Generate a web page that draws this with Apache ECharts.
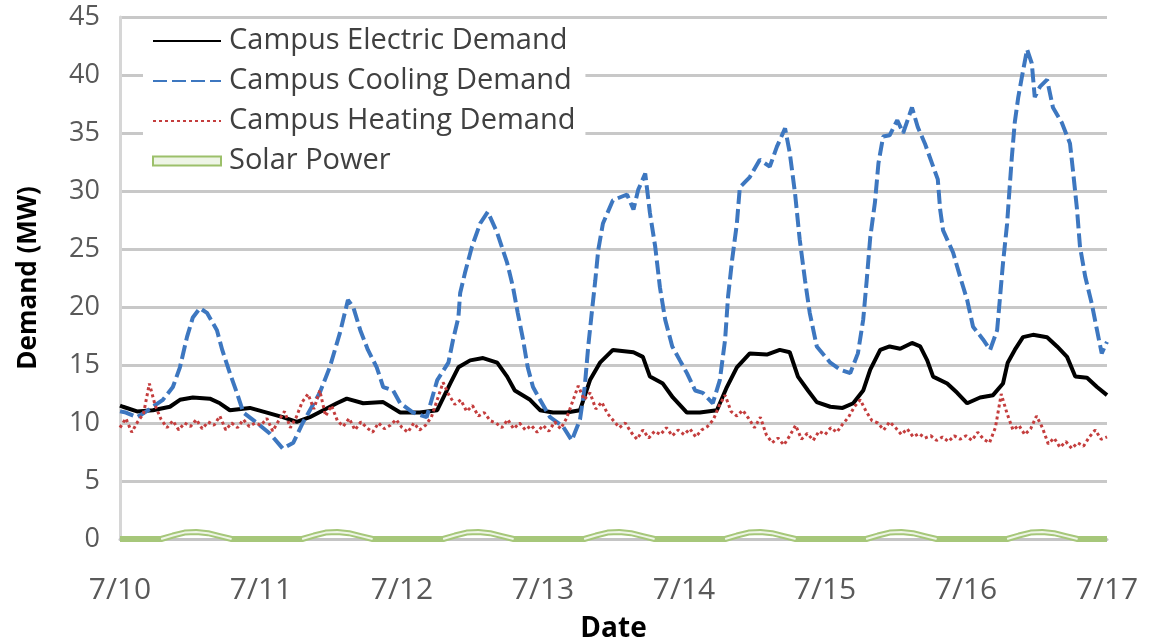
<!DOCTYPE html>
<html><head><meta charset="utf-8">
<script src="https://cdn.jsdelivr.net/npm/echarts@6/dist/echarts.min.js"></script>
<style>html,body{margin:0;padding:0;background:#fff}#c{width:1160px;height:640px}</style>
</head><body><div id="c"></div>
<script>
const tickLabels = ['7/10','7/11','7/12','7/13','7/14','7/15','7/16','7/17'];
const seriesNames = ['Campus Electric Demand','Campus Cooling Demand','Campus Heating Demand','Solar Power'];

const electricHours = [0,0.5,2.9,5.6,8.5,10.2,12.4,15.3,17,18.7,22.1,25,27.7,30.1,32.3,34.6,36.9,38.6,41.4,44.8,47.7,51,54,56.2,57.6,59.6,61.8,64.2,65.9,67.2,69.8,71.5,73.7,76,78.3,80,81.7,83.9,87.4,89,90.2,92.4,94.1,96.5,98.7,101.6,103.3,105,107.2,110.1,112.3,114,115.4,117.1,118.6,120.9,123,124.8,126.5,127.7,129.4,131,132.8,134.8,136.2,137.4,138.4,140.8,142.5,144.2,146.4,148.6,150.3,151.1,152.3,153.7,155.4,157.8,159.5,161.2,162.6,164.6,166.3,168];
const electricValues = [11.5,11.4,11.0,11.1,11.4,12.0,12.2,12.1,11.7,11.1,11.3,10.9,10.5,10.1,10.5,11.1,11.7,12.1,11.7,11.8,10.9,10.9,11.1,13.4,14.8,15.4,15.6,15.2,14.0,12.8,12.0,11.1,10.9,10.9,11.1,13.7,15.2,16.3,16.1,15.7,14.0,13.4,12.2,10.9,10.9,11.1,13.1,14.8,16.0,15.9,16.3,16.1,14.0,12.8,11.8,11.4,11.3,11.7,12.8,14.6,16.3,16.6,16.4,16.9,16.6,15.4,14.0,13.4,12.6,11.7,12.2,12.4,13.4,15.2,16.3,17.4,17.6,17.4,16.6,15.7,14.0,13.9,13.1,12.4];

const coolingHours = [0,1,2.9,4.5,5.6,7.3,9,10.2,11.4,12.4,13.6,14.8,16.5,17.4,18.7,19.9,21,23.3,25.5,27.7,29.5,31.1,34,35.7,37.4,38.8,39.7,40.9,42.2,43.7,44.8,46.5,47.7,49.9,52.2,54,55.9,56.7,57.6,57.9,58.7,59.9,61.3,62.6,64.2,65.9,66.9,67.7,68.6,69.4,70.3,71.5,73.2,75.4,76.9,78.3,79.1,79.7,80.3,80.9,81.4,82.2,83.9,86.3,87.4,88.2,89.4,90.2,91.1,91.9,92.8,94,95.3,96.5,97.9,99.2,100.9,102.1,103,103.5,104.2,105,105.5,107.2,108.9,110.6,111.8,113.2,114,114.9,115.7,116.6,117.4,118.6,120.9,122.6,124.3,125.6,126.5,127.1,127.7,128.5,129.1,129.9,131,132.3,133.3,134.8,135.8,137,138.2,139.2,139.6,140.1,141.8,143,144.2,145.2,146.9,148.1,149.3,149.8,150.3,151,151.4,151.8,152.3,152.9,153.5,154.4,155.2,155.7,156.6,157.8,158.8,160.3,161.7,162.2,162.9,163.4,164.3,165.4,166.3,167.1,168];
const coolingValues = [11.0,10.9,10.5,11.0,11.4,12.0,13.1,14.8,17.4,19.1,19.9,19.5,18.0,16.3,14.3,12.6,10.9,10.0,9.1,7.8,8.3,10.0,12.6,14.8,17.7,20.6,20.0,18.0,16.3,14.8,13.1,12.8,11.7,10.9,10.5,13.7,15.2,17.2,19.1,21.2,22.9,25.2,27.2,28.2,26.4,23.8,21.7,19.5,17.2,14.8,13.1,12.0,10.5,9.7,8.5,10.3,13.1,16.6,19.5,22.3,24.9,27.2,29.2,29.7,28.4,30.1,31.5,28.1,25.2,21.7,18.9,16.6,15.4,14.3,12.8,12.6,11.7,13.7,17.2,20.9,24.1,27.2,30.3,31.2,32.7,32.1,33.8,35.4,33.3,29.8,25.8,22.3,19.5,16.6,15.2,14.6,14.3,16.0,18.9,22.3,26.0,29.0,32.4,34.7,34.8,36.1,35.0,37.2,35.5,34.1,32.4,31.0,28.4,26.6,24.7,22.6,20.6,18.3,17.2,16.3,18.0,20.9,23.8,27.2,30.1,32.9,35.9,38.1,39.8,42.2,41.0,38.1,39.0,39.6,37.2,35.9,34.1,31.8,28.4,25.2,22.6,20.3,18.0,16.0,17.0];

// one value per hour, 7/10 00:00 .. 7/17 00:00
const heatingValues = [
9.6,10.4,9.2,10.1,10.8,13.4,11.5,10.3,9.6,10.2,9.4,10.0,9.7,10.3,9.5,10.1,9.8,10.6,9.4,10.0,9.6,10.3,9.7,10.0,
9.8,10.4,9.3,10.2,11.0,9.6,10.5,11.8,12.5,11.2,12.8,10.6,11.5,10.2,9.7,10.4,9.4,10.1,9.6,9.2,10.0,9.5,9.8,10.3,
9.6,9.2,10.0,9.4,9.8,10.5,12.0,13.5,12.4,11.6,12.0,11.0,11.5,10.6,10.9,10.2,10.0,9.6,10.3,9.5,10.0,9.4,9.8,9.2,
9.8,9.3,10.1,9.5,10.4,11.8,13.2,12.0,12.6,11.2,11.8,10.8,10.2,9.6,10.0,9.2,8.6,9.4,8.7,9.3,9.0,9.6,8.9,9.4,
9.0,9.5,8.8,9.4,9.7,10.3,11.5,12.4,11.0,10.6,11.1,10.4,9.6,10.5,9.0,8.3,8.7,8.1,8.9,9.8,8.6,9.1,8.5,9.3,
9.0,9.6,9.2,9.9,10.5,11.4,12.0,11.0,10.2,10.0,9.4,10.1,9.6,9.0,9.5,8.8,9.1,8.7,8.9,8.5,8.8,8.4,8.9,8.6,
8.9,8.5,9.2,8.6,8.3,9.6,12.5,10.8,9.4,9.8,9.0,9.5,10.6,9.6,8.2,8.7,7.9,8.4,7.8,8.3,8.0,8.8,9.4,8.6,8.8];

const solarHours = [0,7,9,11,13,15,17,19,31,33,35,37,39,41,43,55,57,59,61,63,65,67,79,81,83,85,87,89,91,103,105,107,109,111,113,115,127,129,131,133,135,137,139,151,153,155,157,159,161,163,168];
const solarValues = [0,0,0.3,0.55,0.6,0.5,0.25,0,0,0.3,0.55,0.6,0.5,0.25,0,0,0.3,0.55,0.6,0.5,0.25,0,0,0.3,0.55,0.6,0.5,0.25,0,0,0.3,0.55,0.6,0.5,0.25,0,0,0.3,0.55,0.6,0.5,0.25,0,0,0.3,0.55,0.6,0.5,0.25,0,0];

const pairs = (hs, vs) => hs.map((h, i) => [h, vs[i]]);
const electricData = pairs(electricHours, electricValues);
const coolingData = pairs(coolingHours, coolingValues);
const heatingData = heatingValues.map((v, i) => [i, v]);
const solarData = pairs(solarHours, solarValues);
// inner light stroke of the double line only along the daytime humps
const solarInner = [];
solarHours.forEach((h, i) => {
  if (i > 0 && solarValues[i - 1] === 0 && solarValues[i] === 0) solarInner.push([(solarHours[i - 1] + h) / 2, null]);
  solarInner.push([h, solarValues[i]]);
});

const FONT = 'Open Sans';
const chart = echarts.init(document.getElementById('c'), null, {renderer: 'canvas'});
chart.setOption({
  animation: false,
  backgroundColor: '#ffffff',
  grid: {left: 120, right: 53, top: 17, bottom: 101, containLabel: false, outerBoundsMode: 'none'},
  legend: {
    data: [
      {name: seriesNames[0]},
      {name: seriesNames[1]},
      {name: seriesNames[2]},
      {name: seriesNames[3], icon: 'rect', itemStyle: {color: '#eef5e6', borderColor: '#9cc06a', borderWidth: 2, opacity: 1}}
    ],
    orient: 'vertical',
    left: 143, top: 21,
    padding: [5, 10, 5, 9],
    backgroundColor: '#ffffff',
    itemWidth: 68, itemHeight: 9, itemGap: 10,
    selectedMode: false,
    itemStyle: {opacity: 0},
    textStyle: {fontFamily: FONT, fontSize: 29, color: '#404040', lineHeight: 30, padding: [0, 0, 0, 3]}
  },
  xAxis: {
    type: 'value', min: 0, max: 168, interval: 24,
    name: 'Date', nameLocation: 'middle', nameGap: 76,
    nameTextStyle: {fontFamily: FONT, fontSize: 28, fontWeight: 'bold', color: '#000'},
    axisLine: {show: true, lineStyle: {color: '#c4c4c4', width: 3}},
    axisTick: {show: false},
    axisLabel: {fontFamily: FONT, fontSize: 30, color: '#595959', margin: 36,
      formatter: v => tickLabels[Math.round(v / 24)]},
    splitLine: {show: false}
  },
  yAxis: {
    type: 'value', min: 0, max: 45, interval: 5,
    name: 'Demand (MW)', nameLocation: 'middle', nameGap: 78,
    nameTextStyle: {fontFamily: FONT, fontSize: 26, fontWeight: 'bold', color: '#000'},
    axisLine: {show: true, lineStyle: {color: '#d6d6d6', width: 3}},
    axisTick: {show: false},
    axisLabel: {fontFamily: FONT, fontSize: 27, color: '#595959', margin: 20},
    splitLine: {show: true, lineStyle: {color: '#c8c8c8', width: 3}}
  },
  series: [
    {name: seriesNames[0], type: 'line', data: electricData, showSymbol: false, symbol: 'none',
      lineStyle: {color: '#000000', width: 4}, itemStyle: {color: '#000000'}},
    {name: seriesNames[1], type: 'line', data: coolingData, showSymbol: false, symbol: 'none',
      lineStyle: {color: '#3d77c0', width: 4, type: [14, 5]}, itemStyle: {color: '#3d77c0'}},
    {name: seriesNames[2], type: 'line', data: heatingData, showSymbol: false, symbol: 'none',
      lineStyle: {color: '#c43d3d', width: 3, type: [3, 3]}, itemStyle: {color: '#c43d3d'}},
    {name: seriesNames[3], type: 'line', data: solarData, showSymbol: false, symbol: 'none',
      lineStyle: {color: '#a6c77a', width: 6}, itemStyle: {color: '#a6c77a'}},
    {name: 'solarInner', type: 'line', data: solarInner, showSymbol: false, symbol: 'none', silent: true,
      connectNulls: false, lineStyle: {color: '#eef5e6', width: 2}}
  ]
});
</script></body></html>
